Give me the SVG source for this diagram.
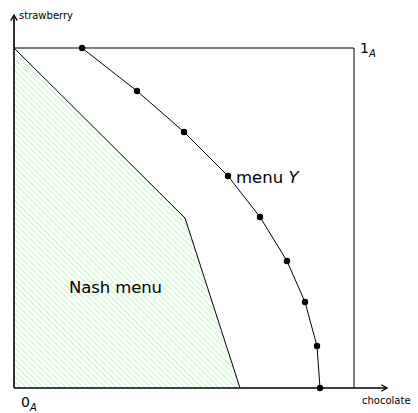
<svg xmlns="http://www.w3.org/2000/svg" width="418" height="413" viewBox="0 0 418 413">
<style>
.t{font-family:"DejaVu Sans","Liberation Sans",sans-serif;fill:#000}
.ln{fill:none;stroke:#000;stroke-width:1}
.ax{fill:none;stroke:#000;stroke-width:1.6}
.dot{fill:#000}
</style>
<defs>
<pattern id="hatch" patternUnits="userSpaceOnUse" width="4" height="4" patternTransform="rotate(-45)">
<line x1="0" y1="-1" x2="0" y2="5" stroke="#90ee90" stroke-width="1.1"/>
</pattern>
<marker id="arr" viewBox="0 0 10 10" refX="8" refY="5" markerWidth="8" markerHeight="8" orient="auto" markerUnits="userSpaceOnUse">
<path d="M1,1 L8,5 L1,9" fill="none" stroke="#000" stroke-width="1.6"/>
</marker>
</defs>
<g id="nash">
<polygon points="14,48 185,218 240,388 14,388" fill="url(#hatch)" stroke="none"/>
<polyline class="ln" points="14,48 185,218 240,388"/>
<text class="t" x="69" y="293" font-size="16.5" textLength="93" lengthAdjust="spacing">Nash menu</text>
</g>
<g id="box">
<polyline class="ln" points="14,48 354,48 354,388"/>
</g>
<g id="connectors">
<line class="ax" x1="14" y1="388" x2="14" y2="15" marker-end="url(#arr)"/>
<line class="ax" x1="14" y1="388" x2="387" y2="388" marker-end="url(#arr)"/>
</g>
<g id="menuY">
<polyline class="ln" points="82,48 137,91 184,132 228,176 260,217 287,261 305,302 317,346 320,388"/>
<circle class="dot" cx="82" cy="48" r="3.2"/>
<circle class="dot" cx="137" cy="91" r="3.2"/>
<circle class="dot" cx="184" cy="132" r="3.2"/>
<circle class="dot" cx="228" cy="176" r="3.2"/>
<circle class="dot" cx="260" cy="217" r="3.2"/>
<circle class="dot" cx="287" cy="261" r="3.2"/>
<circle class="dot" cx="305" cy="302" r="3.2"/>
<circle class="dot" cx="317" cy="346" r="3.2"/>
<circle class="dot" cx="320" cy="388" r="3.2"/>
<text class="t" x="236" y="183" font-size="16.5">menu <tspan font-style="italic">Y</tspan></text>
</g>
<g id="labels">
<text class="t" x="19" y="19" font-size="10">strawberry</text>
<text class="t" x="362" y="404" font-size="10">chocolate</text>
<text class="t" x="360" y="53" font-size="14">1<tspan font-size="10" font-style="italic" dy="4">A</tspan></text>
<text class="t" x="21" y="407" font-size="14">0<tspan font-size="10" font-style="italic" dy="4">A</tspan></text>
</g>
</svg>
